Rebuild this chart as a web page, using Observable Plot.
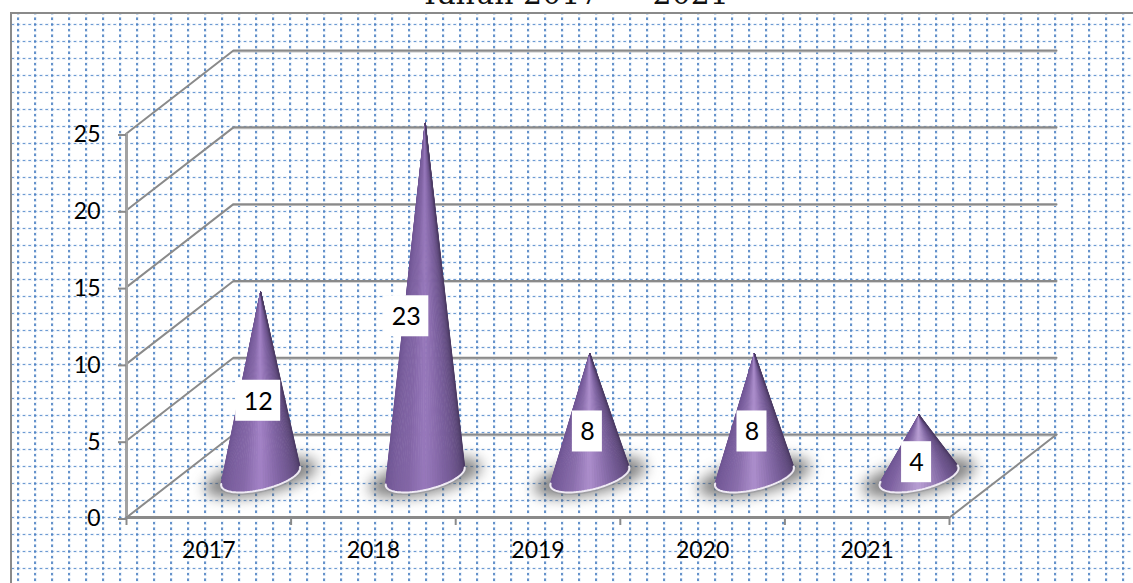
<!DOCTYPE html>
<html>
<head>
<meta charset="utf-8">
<script src="https://cdn.jsdelivr.net/npm/d3@7"></script>
<script src="https://cdn.jsdelivr.net/npm/@observablehq/plot@0.6"></script>
<style>
html,body{margin:0;padding:0;background:#fff;width:1133px;height:583px;overflow:hidden}
#title{position:absolute;left:0;width:1133px;top:-26px;line-height:40px;text-align:center;font-family:"DejaVu Serif",serif;font-size:30px;color:#111;white-space:pre;text-indent:16px}
#frame{position:absolute;left:10px;top:12px;right:0;bottom:-4px;border-left:2px solid #8a8a8a;border-top:2px solid #8a8a8a;background-position:-12px -14px}
#chart{position:absolute;left:0;top:0}
#chart svg{background:transparent !important;overflow:visible}
</style>
</head>
<body>
<div id="frame"></div>
<div id="title">Tahun 2017  –  2021</div>
<div id="chart"></div>
<script>
// ---- data ----
const years = ["2017", "2018", "2019", "2020", "2021"];
const counts = [12, 23, 8, 8, 4];
const labelShift = [0.3, 0.2, 0.3, 0.3, 0.3];
const valueTicks = [0, 5, 10, 15, 20, 25];

// background dotted paper
const tile = `<svg xmlns="http://www.w3.org/2000/svg" width="17" height="17">
<path d="M0 7.5H17" stroke="#edf3fa" stroke-width="3" stroke-dasharray="3.67 2"/>
<path d="M1 0V17" stroke="#e6eff9" stroke-width="3.6" stroke-dasharray="3.6 2.07"/>
<path d="M0 7.5H17" stroke="#6c9ad2" stroke-width="1" stroke-dasharray="2.6 3.07"/>
<path d="M1 0V17" stroke="#4f82c2" stroke-width="1.7" stroke-dasharray="2.4 3.27" stroke-dashoffset="-0.6"/>
</svg>`;
document.getElementById("frame").style.backgroundImage = `url("data:image/svg+xml,${encodeURIComponent(tile)}")`;

// ---- pseudo-3D geometry in data units ----
const depthX = 0.65, depthY = 5.4;              // wall offset
const midX = 0.315, midY = 2.67;                // where the cones stand on the floor
const ux = 0.2035, vx = 0.1276, vy = 1.04;      // base ellipse axes
const nCat = years.length;
const centers = years.map((_, i) => i + 0.5);

// walls and floor
const wall = valueTicks.flatMap(t => [
  {id: t, x: 0, y: t},
  {id: t, x: depthX, y: t + depthY},
  {id: t, x: nCat + depthX, y: t + depthY}
]);
const wallBack = valueTicks.flatMap(t => [
  {id: t, x: depthX, y: t + depthY - 0.07},
  {id: t, x: nCat + depthX, y: t + depthY - 0.07}
]);
const floorEdge = [{x: nCat, y: 0}, {x: nCat + depthX, y: depthY}];

// cones
const stops = d3.scaleLinear()
  .domain([0, 0.16, 0.36, 0.5, 0.66, 0.86, 1])
  .range(["#6b5290", "#755a99", "#8568a8", "#a584c8", "#7f63a2", "#5f4a7c", "#4a3a62"])
  .interpolate(d3.interpolateRgb);
const nStrips = 48;
const strips = [], rims = [], shadows = [];
counts.forEach((v, i) => {
  const cx = centers[i] + midX, cy = midY;
  const pt = t => [cx + ux * Math.cos(t) + vx * Math.sin(t), cy + vy * Math.sin(t)];
  // apex expressed in the ellipse's own basis; tangent angles follow from the unit circle
  const b = v / vy, a = -vx * b / ux;
  const r = Math.hypot(a, b), phi = Math.atan2(b, a), d = Math.acos(1 / r);
  const tL = phi + d, tR = phi - d + 2 * Math.PI;
  const boost = v < 6 ? 0.22 : v < 10 ? 0.08 : v > 15 ? -0.12 : -0.02;
  for (let k = 0; k < nStrips; k++) {
    const f = k / nStrips, g = (k + 1) / nStrips;
    const [x1, y1] = pt(tL + (tR - tL) * f), [x2, y2] = pt(tL + (tR - tL) * g);
    let c = d3.color(stops((f + g) / 2));
    const weight = Math.max(0, 1 - Math.abs((f + g) / 2 - 0.5) / 0.25);
    c = boost > 0 ? d3.interpolateRgb(c, "#ffffff")(boost * weight) : d3.interpolateRgb(c, "#6b5290")(-boost * 2 * weight);
    const col = d3.color(c).formatHex();
    const id = `${i}-${k}`;
    strips.push({id, c: col, x: cx, y: cy + v}, {id, c: col, x: x1, y: y1}, {id, c: col, x: x2, y: y2});
  }
  for (let k = 0; k <= nStrips; k++) {
    const [x, y] = pt(tL + (tR - tL) * k / nStrips);
    rims.push({id: i, x, y});
  }
  for (let k = 0; k < 60; k++) {
    const t = k / 60 * 2 * Math.PI;
    shadows.push({
      id: i,
      x: cx + 1.42 * (ux * Math.cos(t) + vx * Math.sin(t)),
      y: cy + 1.28 * vy * Math.sin(t) - 0.05
    });
  }
});

// label boxes
const boxes = counts.map((v, i) => {
  const hw = (String(v).length === 1 ? 15 : 22.5) / 164.6;
  const x = centers[i] + labelShift[i], y = v / 2 + 1.6;
  return {v, x, y, x1: x - hw, x2: x + hw, y1: y - 1.335, y2: y + 1.335};
});

const chart = Plot.plot({
  width: 1133,
  height: 583,
  marginLeft: 126,
  marginRight: 184,
  marginTop: 133,
  marginBottom: 66,
  x: {type: "linear", domain: [0, nCat]},
  y: {type: "linear", domain: [0, 25]},
  color: {type: "identity"},
  style: {background: "transparent", fontFamily: "Lato, sans-serif", fontSize: "23px", color: "#000"},
  marks: [
    Plot.line(wallBack, {x: "x", y: "y", z: "id", stroke: "#c4c4c4", strokeWidth: 1.6}),
    Plot.line(wall, {x: "x", y: "y", z: "id", stroke: "#8a8a8a", strokeWidth: 2}),
    Plot.line(floorEdge, {x: "x", y: "y", stroke: "#8a8a8a", strokeWidth: 2}),
    Plot.ruleX([0], {y1: 0, y2: 25, stroke: "#a2a2a2", strokeWidth: 3}),
    Plot.ruleY([0], {x1: 0, x2: nCat, stroke: "#8a8a8a", strokeWidth: 3}),
    Plot.axisY({ticks: valueTicks, tickSize: 8, tickPadding: 18, stroke: "#8a8a8a", strokeWidth: 2, fill: "#000", dy: 1.5, fontSize: 23, tickFormat: d => d}),
    Plot.axisX({ticks: centers, tickSize: 0, tickPadding: 24, fill: "#000", fontSize: 23, tickFormat: d => years[Math.floor(d)]}),
    Plot.axisX({ticks: d3.range(nCat + 1), tickSize: 8, stroke: "#8a8a8a", strokeWidth: 2, tickFormat: () => ""}),
    Plot.line(shadows, {x: "x", y: "y", z: "id", fill: "#555555", stroke: "none", imageFilter: "blur(7px)", opacity: 0.72}),
    Plot.line(strips, {x: "x", y: "y", z: "id", fill: "c", stroke: "c", strokeWidth: 1.1}),
    Plot.line(rims, {x: "x", y: "y", z: "id", stroke: "#8f8f96", strokeWidth: 3, strokeOpacity: 0.5, dy: 1}),
    Plot.line(rims, {x: "x", y: "y", z: "id", stroke: "#efeaf4", strokeWidth: 2}),
    Plot.rect(boxes, {x1: "x1", x2: "x2", y1: "y1", y2: "y2", fill: "#fff"}),
    Plot.text(boxes, {x: "x", y: "y", text: d => String(d.v), fill: "#000", fontSize: 25, dy: 1})
  ]
});
document.getElementById("chart").appendChild(chart);
</script>
</body>
</html>
